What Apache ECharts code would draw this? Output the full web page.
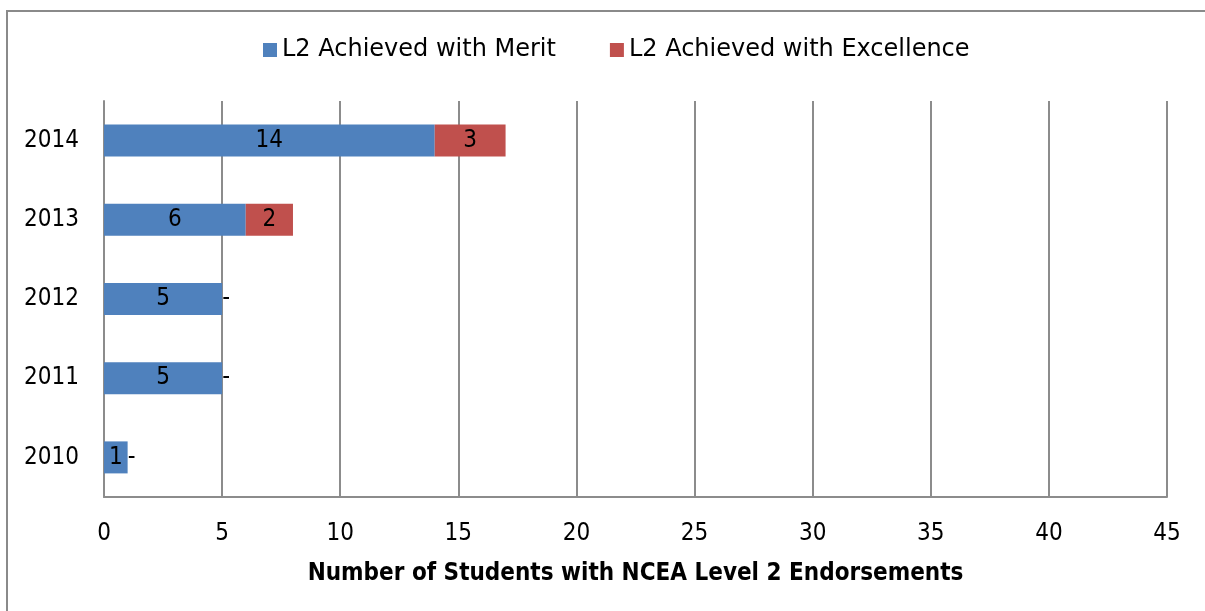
<!DOCTYPE html>
<html>
<head>
<meta charset="utf-8">
<script src="https://cdn.jsdelivr.net/npm/echarts@6/dist/echarts.min.js"></script>
<style>
  html, body { margin: 0; padding: 0; background: #fff; }
  #chart { width: 1205px; height: 611px; }
</style>
</head>
<body>
<div id="chart"></div>
<script>
// NCEA Level 2 endorsements by year
const years = ['2010', '2011', '2012', '2013', '2014'];
const meritCounts = [1, 5, 5, 6, 14];
const excellenceCounts = [0, 0, 0, 2, 3];
const xTicks = { min: 0, max: 45, step: 5 };

const FONT = '"DejaVu Sans Condensed", "DejaVu Sans", sans-serif';
const FONT_WIDE = '"DejaVu Sans", sans-serif';
const GRID_GREY = '#8c8c8c';

const chart = echarts.init(document.getElementById('chart'));

function valueLabel(p) {
  return p.value === 0 ? '-' : String(p.value);
}

// zero-height segments show a dash just past the end of the bar
function withDashOffset(values) {
  return values.map(v => v === 0 ? { value: v, label: { offset: [4, 0] } } : v);
}

const labelStyle = {
  show: true,
  position: 'inside',
  formatter: valueLabel,
  fontFamily: FONT,
  fontSize: 24,
  color: '#000'
};

chart.setOption({
  animation: false,
  textStyle: { fontFamily: FONT },
  graphic: [{
    type: 'rect',
    shape: { x: 7, y: 11, width: 1300, height: 700 },
    style: { fill: 'none', stroke: '#8a8a8a', lineWidth: 2 },
    silent: true
  }],
  legend: {
    top: 33,
    left: 258,
    icon: 'rect',
    itemWidth: 14,
    itemHeight: 14,
    itemGap: 54,
    textStyle: { fontFamily: FONT_WIDE, fontSize: 24, color: '#000' },
    data: ['L2 Achieved with Merit', 'L2 Achieved with Excellence']
  },
  grid: { left: 104, right: 38, top: 101, bottom: 114, containLabel: false },
  xAxis: {
    type: 'value',
    min: xTicks.min,
    max: xTicks.max,
    interval: xTicks.step,
    name: 'Number of Students with NCEA Level 2 Endorsements',
    nameLocation: 'middle',
    nameGap: 65,
    nameTextStyle: { fontFamily: FONT, fontSize: 24, fontWeight: 'bold', color: '#000' },
    axisLine: { show: true, lineStyle: { color: GRID_GREY, width: 2 } },
    axisTick: { show: false },
    axisLabel: { fontFamily: FONT, fontSize: 24, color: '#000', margin: 25 },
    splitLine: { show: true, lineStyle: { color: GRID_GREY, width: 2 } }
  },
  yAxis: {
    type: 'category',
    data: years,
    axisLine: { show: true, lineStyle: { color: GRID_GREY, width: 2 } },
    axisTick: { show: false },
    axisLabel: { fontFamily: FONT, fontSize: 24, color: '#000', margin: 25 },
    splitLine: { show: false }
  },
  series: [
    {
      name: 'L2 Achieved with Merit',
      type: 'bar',
      stack: 'total',
      barWidth: 32,
      data: meritCounts,
      itemStyle: { color: '#4f81bd' },
      label: labelStyle
    },
    {
      name: 'L2 Achieved with Excellence',
      type: 'bar',
      stack: 'total',
      barWidth: 32,
      data: withDashOffset(excellenceCounts),
      itemStyle: { color: '#c0504d' },
      label: labelStyle
    }
  ]
});
</script>
</body>
</html>
